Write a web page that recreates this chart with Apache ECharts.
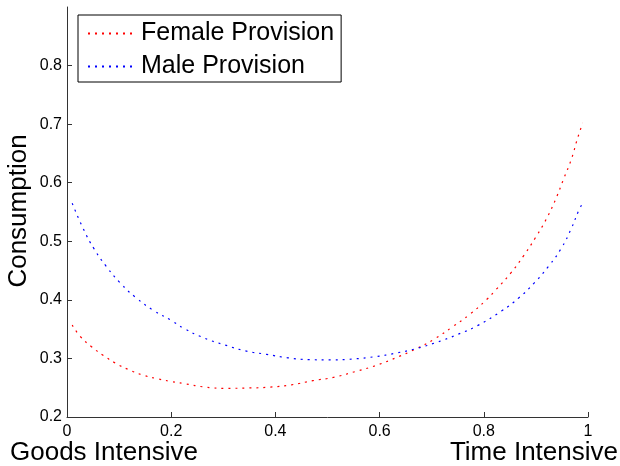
<!DOCTYPE html>
<html>
<head>
<meta charset="utf-8">
<script src="https://cdn.jsdelivr.net/npm/echarts@6/dist/echarts.min.js"></script>
<style>
  html, body { margin: 0; padding: 0; background: #fff; }
  #chart { width: 620px; height: 466px; }
</style>
</head>
<body>
<div id="chart"></div>
<script>
// 数据
var femaleX = [0.01, 0.026, 0.047, 0.07, 0.093, 0.118, 0.144, 0.17, 0.198, 0.225, 0.266, 0.308, 0.349, 0.39, 0.431, 0.472, 0.513, 0.553, 0.593, 0.631, 0.669, 0.705, 0.74, 0.774, 0.806, 0.823, 0.852, 0.877, 0.899, 0.92, 0.938, 0.953, 0.968, 0.98, 0.99];
var femaleY = [0.357, 0.337, 0.320, 0.305, 0.292, 0.281, 0.272, 0.266, 0.261, 0.257, 0.251, 0.249, 0.2496, 0.251, 0.255, 0.262, 0.268, 0.2775, 0.288, 0.301, 0.316, 0.333, 0.354, 0.376, 0.401, 0.417, 0.446, 0.476, 0.506, 0.538, 0.572, 0.606, 0.640, 0.676, 0.702];
var maleX = [0.01, 0.032, 0.052, 0.0755, 0.102, 0.132, 0.166, 0.2, 0.225, 0.263, 0.303, 0.342, 0.383, 0.424, 0.466, 0.507, 0.548, 0.591, 0.631, 0.671, 0.711, 0.75, 0.788, 0.834, 0.868, 0.897, 0.924, 0.948, 0.967, 0.983, 0.99];
var maleY = [0.565, 0.520, 0.487, 0.457, 0.429, 0.404, 0.382, 0.365, 0.351, 0.335, 0.323, 0.313, 0.307, 0.301, 0.298, 0.2975, 0.299, 0.303, 0.309, 0.317, 0.328, 0.341, 0.356, 0.381, 0.404, 0.429, 0.457, 0.487, 0.520, 0.554, 0.565];
var yTicks = [0.2, 0.3, 0.4, 0.5, 0.6, 0.7, 0.8];

function pairs(xs, ys) {
  return xs.map(function(x, i) { return [x, ys[i]]; });
}

var myChart = echarts.init(document.getElementById("chart"));
var font = "Liberation Sans, Arial, sans-serif";
var option = {
  animation: false,
  textStyle: { fontFamily: font },
  grid: {
    left: 67,
    right: 32,
    top: 7,
    bottom: 49
  },
  legend: {
    left: 78,
    top: 15,
    orient: 'vertical',
    borderColor: '#000',
    borderWidth: 1,
    borderRadius: 0,
    padding: [6, 7, 3, 9],
    itemGap: 8,
    itemWidth: 48,
    itemHeight: 12,
    itemStyle: { opacity: 0 },
    textStyle: {
      fontFamily: font,
      fontSize: 25,
      color: '#000'
    },
    data: ['Female Provision', 'Male Provision']
  },
  xAxis: {
    type: 'value',
    min: 0,
    max: 1,
    interval: 0.2,
    splitLine: { show: false },
    axisLine: { lineStyle: { color: '#333', width: 1 } },
    axisTick: { inside: true, length: 5, lineStyle: { color: '#333' } },
    axisLabel: { color: '#000', fontSize: 16, margin: 7 }
  },
  yAxis: {
    type: 'value',
    min: 0.2,
    max: 0.9,
    interval: 0.1,
    splitLine: { show: false },
    axisLine: { show: true, lineStyle: { color: '#333', width: 1 } },
    axisTick: { inside: true, length: 5, customValues: yTicks, lineStyle: { color: '#333' } },
    axisLabel: {
      color: '#000',
      fontSize: 16,
      margin: 5,
      customValues: yTicks,
      formatter: function(v) { return String(Math.round(v * 10) / 10); }
    }
  },
  graphic: [
    {
      type: 'text',
      left: 10,
      top: 440,
      style: { text: 'Goods Intensive', fontSize: 26, fontFamily: font, fill: '#000' }
    },
    {
      type: 'text',
      right: 2,
      top: 440,
      style: { text: 'Time Intensive', fontSize: 26, fontFamily: font, fill: '#000' }
    },
    {
      type: 'text',
      x: 6,
      y: 211,
      rotation: Math.PI / 2,
      style: {
        text: 'Consumption',
        fontSize: 26,
        fontFamily: font,
        fill: '#000',
        align: 'center',
        verticalAlign: 'top'
      }
    }
  ],
  series: [
    {
      name: 'Female Provision',
      type: 'line',
      smooth: true,
      symbol: 'none',
      lineStyle: { color: '#ff0000', width: 1.2, type: [2, 5] },
      itemStyle: { color: '#ff0000' },
      data: pairs(femaleX, femaleY)
    },
    {
      name: 'Male Provision',
      type: 'line',
      smooth: true,
      symbol: 'none',
      lineStyle: { color: '#0000ff', width: 1.2, type: [2, 5] },
      itemStyle: { color: '#0000ff' },
      data: pairs(maleX, maleY)
    }
  ]
};
myChart.setOption(option);
window.addEventListener("resize", function() {
  myChart.resize();
});
</script>
</body>
</html>
